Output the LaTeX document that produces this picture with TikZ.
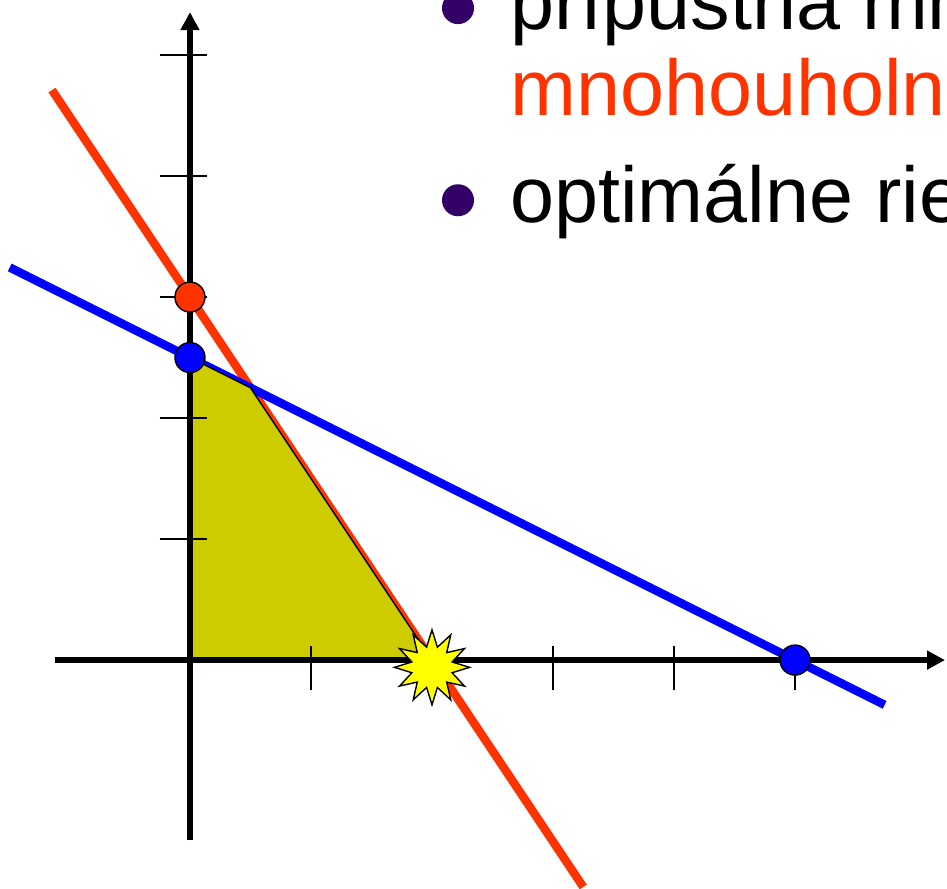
\documentclass[tikz,border=0pt]{standalone}
\usepackage{fontspec}
\setmainfont{Liberation Sans}
\usetikzlibrary{arrows.meta, shapes.geometric}
\definecolor{redline}{HTML}{FF3300}
\definecolor{blueline}{HTML}{0000FF}
\definecolor{region}{HTML}{CCCC00}
\definecolor{bulletc}{HTML}{330066}
\definecolor{burst}{HTML}{FFFF00}
\tikzset{
  axisline/.style={line width=3.8pt, -{Triangle[length=0.36cm, width=0.36cm]}},
  tickmark/.style={line width=0.8pt},
  bound/.style={line width=4.8pt},
  vertex/.style={circle, draw=black, line width=0.8pt, minimum size=0.6cm, inner sep=0pt},
  bulletdot/.style={circle, fill=bulletc, minimum size=0.64cm, inner sep=0pt},
  itemtext/.style={anchor=base west, inner sep=0pt, font=\fontsize{45}{54}\selectfont},
}
\begin{document}
\begin{tikzpicture}[x=2.42cm, y=2.42cm]
  \useasboundingbox (-1.570,-1.884) rectangle (6.256,5.455);
  \clip (-1.570,-1.884) rectangle (6.256,5.455);
  % constraints
  \draw[bound, redline] (-1.14,4.71) -- (3.25,-1.875);
  \draw[bound, blueline] (-1.49,3.245) -- (5.74,-0.37);
  % feasible region
  \draw[fill=region, line width=0.8pt] (0,0) -- (0,2.5) -- (0.5,2.25) -- (2,0) -- cycle;
  % axes
  \draw[axisline] (-1.116,0) -- (6.24,0);
  \draw[axisline] (0,-1.488) -- (0,5.355);
  \foreach \k in {1,...,5} {
    \draw[tickmark] (\k,-0.25) -- (\k,0.12);
    \draw[tickmark] (-0.25,\k) -- (0.14,\k);
  }
  % vertices
  \node[vertex, fill=redline] (r) at (0,3) {};
  \node[vertex, fill=blueline] (b) at (0,2.5) {};
  \node[vertex, fill=blueline] (c) at (5,0) {};
  \node[star, star points=12, star point ratio=1.8, minimum size=1.5cm, inner sep=0pt,
        draw, fill=burst, line width=0.8pt] (opt) at (2,-0.06) {};
  % text
  \node[bulletdot] (b1) at (2.215,5.388) {};
  \node[itemtext] (t1) at (2.645,5.207) {prípustná množina};
  \node[itemtext, text=redline] (t2) at (2.645,4.504) {mnohouholník};
  \node[bulletdot] (b2) at (2.215,3.80) {};
  \node[itemtext] (t3) at (2.645,3.62) {optimálne riešenie};
\end{tikzpicture}
\end{document}
